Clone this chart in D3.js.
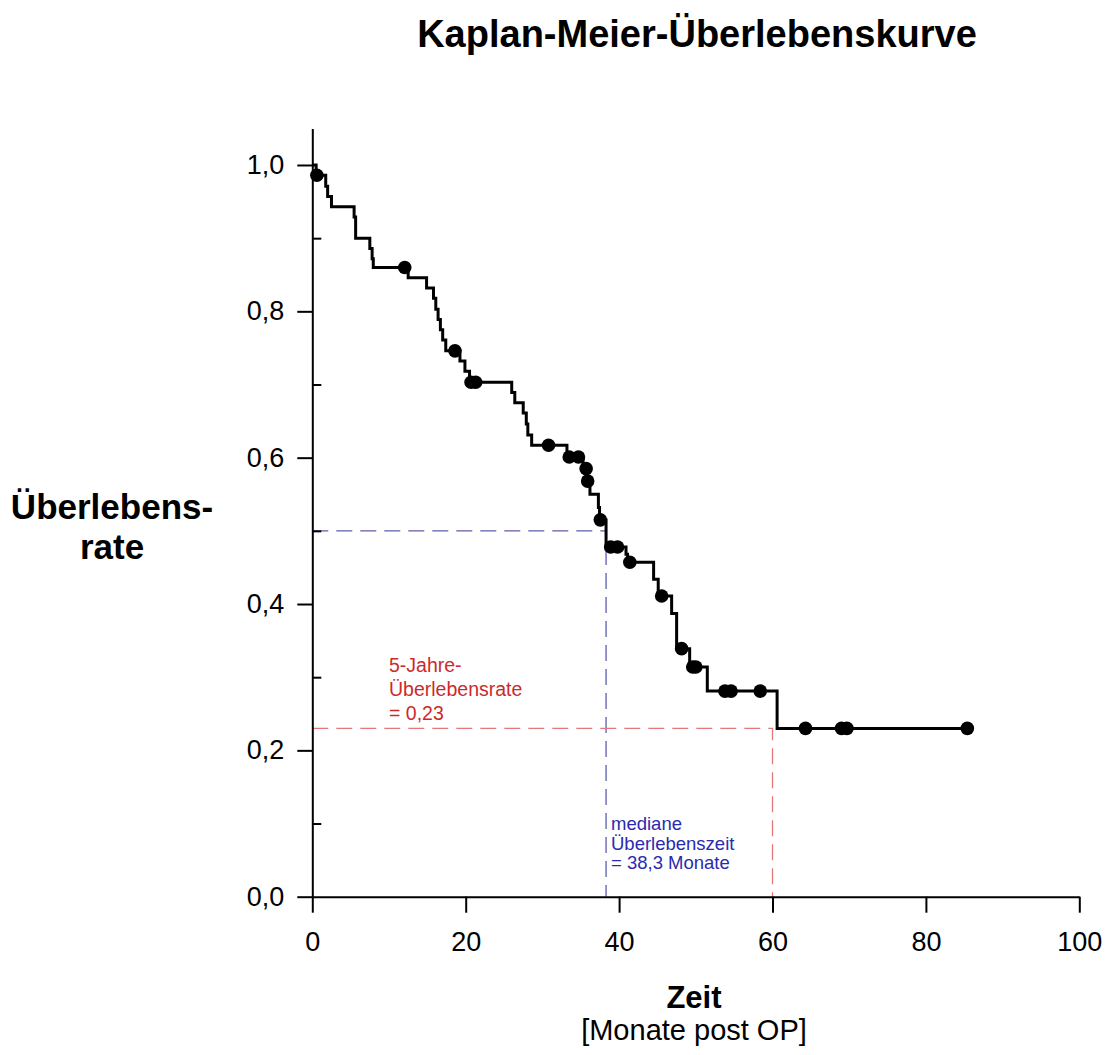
<!DOCTYPE html>
<html>
<head>
<meta charset="utf-8">
<script src="https://cdn.jsdelivr.net/npm/d3@7"></script>
<style>
  html, body { margin: 0; padding: 0; background: #fff; }
  svg { display: block; font-family: "Liberation Sans", Arial, sans-serif; }
</style>
</head>
<body>
<svg id="chart" width="1108" height="1055"></svg>
<script>
// Kaplan-Meier step function: month of each drop and survival level after it
const stepMonths = [0.5, 1.75, 2.0, 2.5, 5.45, 5.65, 7.5, 7.8, 7.95, 12.5,
  14.9, 15.8, 16.1, 16.4, 16.7, 17.0, 17.4, 19.25, 19.9, 20.5,
  26.0, 26.4, 27.5, 27.9, 28.1, 28.6, 33.2, 35.3, 35.8, 36.2,
  37.3, 37.45, 38.3, 40.9, 41.1, 44.5, 45.1, 46.85, 47.5, 49.2,
  51.5, 60.6];
const stepSurvival = [0.986, 0.971, 0.957, 0.943, 0.929, 0.900, 0.886, 0.872, 0.860, 0.846,
  0.832, 0.818, 0.803, 0.789, 0.775, 0.761, 0.746, 0.732, 0.718, 0.703,
  0.689, 0.675, 0.661, 0.646, 0.631, 0.617, 0.601, 0.585, 0.568, 0.550,
  0.532, 0.515, 0.478, 0.468, 0.457, 0.434, 0.411, 0.387, 0.339, 0.314,
  0.281, 0.23];
// censored observations (months)
const censoredMonths = [0.6, 12.05, 18.6, 20.7, 21.3, 30.8, 33.5, 34.7, 35.7, 35.9,
  37.55, 38.9, 39.8, 41.4, 45.55, 48.15, 49.6, 50.0, 53.8, 54.6,
  58.4, 64.3, 69.0, 69.7, 85.4];
const lastFollowUp = 85.4;

// reference markers
const medianMonths = 38.3;
const fiveYearMonths = 60;
const fiveYearRate = 0.23;

const xTicks = [0, 20, 40, 60, 80, 100];
const yTicks = [0, 0.2, 0.4, 0.6, 0.8, 1.0];
const yMinorTicks = [0.1, 0.3, 0.5, 0.7, 0.9];

const fmt = (v, d) => v.toFixed(d).replace(".", ",");

const svg = d3.select("#chart");
const x = d3.scaleLinear().domain([0, 100]).range([312.3, 1079.3]);
const y = d3.scaleLinear().domain([0, 1]).range([896.7, 165]);

// survival at a given time (right-continuous step)
function survivalAt(t) {
  let s = 1;
  stepMonths.forEach((m, i) => { if (m <= t) s = stepSurvival[i]; });
  return s;
}

// title
svg.append("text")
  .attr("x", 697).attr("y", 47)
  .attr("text-anchor", "middle")
  .attr("font-size", 38).attr("font-weight", "bold")
  .text("Kaplan-Meier-Überlebenskurve");

// y axis title
const yt = svg.append("text")
  .attr("text-anchor", "middle")
  .attr("font-size", 35).attr("font-weight", "bold");
yt.append("tspan").attr("x", 112).attr("y", 519).text("Überlebens-");
yt.append("tspan").attr("x", 112).attr("y", 559).text("rate");

// x axis title
svg.append("text")
  .attr("x", 694).attr("y", 1008)
  .attr("text-anchor", "middle")
  .attr("font-size", 31).attr("font-weight", "bold")
  .text("Zeit");
svg.append("text")
  .attr("x", 694).attr("y", 1040)
  .attr("text-anchor", "middle")
  .attr("font-size", 29)
  .text("[Monate post OP]");

// dashed reference lines
const ref = svg.append("g").attr("fill", "none").attr("stroke-width", 1.3)
  .attr("stroke-dasharray", "16,8");
ref.append("path")
  .attr("stroke", "#5c5cae")
  .attr("d", `M${x(0)},${y(0.5)}H${x(medianMonths)}V${y(0)}`);
ref.append("path")
  .attr("stroke", "#e07a7a")
  .attr("d", `M${x(0)},${y(fiveYearRate)}H${x(fiveYearMonths)}V${y(0)}`);

// annotations
const redNote = svg.append("text").attr("fill", "#cc2a2a").attr("font-size", 19.5);
["5-Jahre-", "Überlebensrate", "= " + fmt(fiveYearRate, 2)].forEach((t, i) =>
  redNote.append("tspan").attr("x", 389).attr("y", 672 + i * 24).text(t));
const blueNote = svg.append("text").attr("fill", "#2a2ab0").attr("font-size", 18.5);
["mediane", "Überlebenszeit", "= " + fmt(medianMonths, 1) + " Monate"].forEach((t, i) =>
  blueNote.append("tspan").attr("x", 611).attr("y", 830 + i * 19.5).text(t));

// axes
svg.append("g")
  .attr("transform", `translate(${x(0)},0)`)
  .call(d3.axisLeft(y.copy().domain([0, 1.05]).range([896.7, 128.4]))
    .tickValues(yTicks).tickSize(15).tickSizeOuter(0).tickPadding(13)
    .tickFormat(d => fmt(d, 1)));
svg.append("g")
  .attr("transform", `translate(${x(0)},0)`)
  .call(d3.axisRight(y).tickValues(yMinorTicks).tickSize(9).tickFormat(""))
  .call(g => g.select(".domain").remove());
svg.append("g")
  .attr("transform", `translate(0,${y(0)})`)
  .call(d3.axisBottom(x).tickValues(xTicks).tickSize(16).tickSizeOuter(0).tickPadding(19));

svg.selectAll(".domain, .tick line").attr("stroke", "#000").attr("stroke-width", 2);
svg.selectAll(".tick text").attr("font-size", 27).attr("fill", "#000")
  .attr("font-family", "'Liberation Sans', Arial, sans-serif");

// survival curve
const pts = [[0, 1]].concat(stepMonths.map((m, i) => [m, stepSurvival[i]]))
  .concat([[lastFollowUp, stepSurvival[stepSurvival.length - 1]]]);
svg.append("path")
  .datum(pts)
  .attr("fill", "none").attr("stroke", "#000").attr("stroke-width", 3)
  .attr("d", d3.line().x(d => x(d[0])).y(d => y(d[1])).curve(d3.curveStepAfter));

// censored marks
svg.append("g").selectAll("circle")
  .data(censoredMonths)
  .join("circle")
  .attr("cx", d => x(d))
  .attr("cy", d => y(survivalAt(d)))
  .attr("r", 6.8)
  .attr("fill", "#000");
</script>
</body>
</html>
